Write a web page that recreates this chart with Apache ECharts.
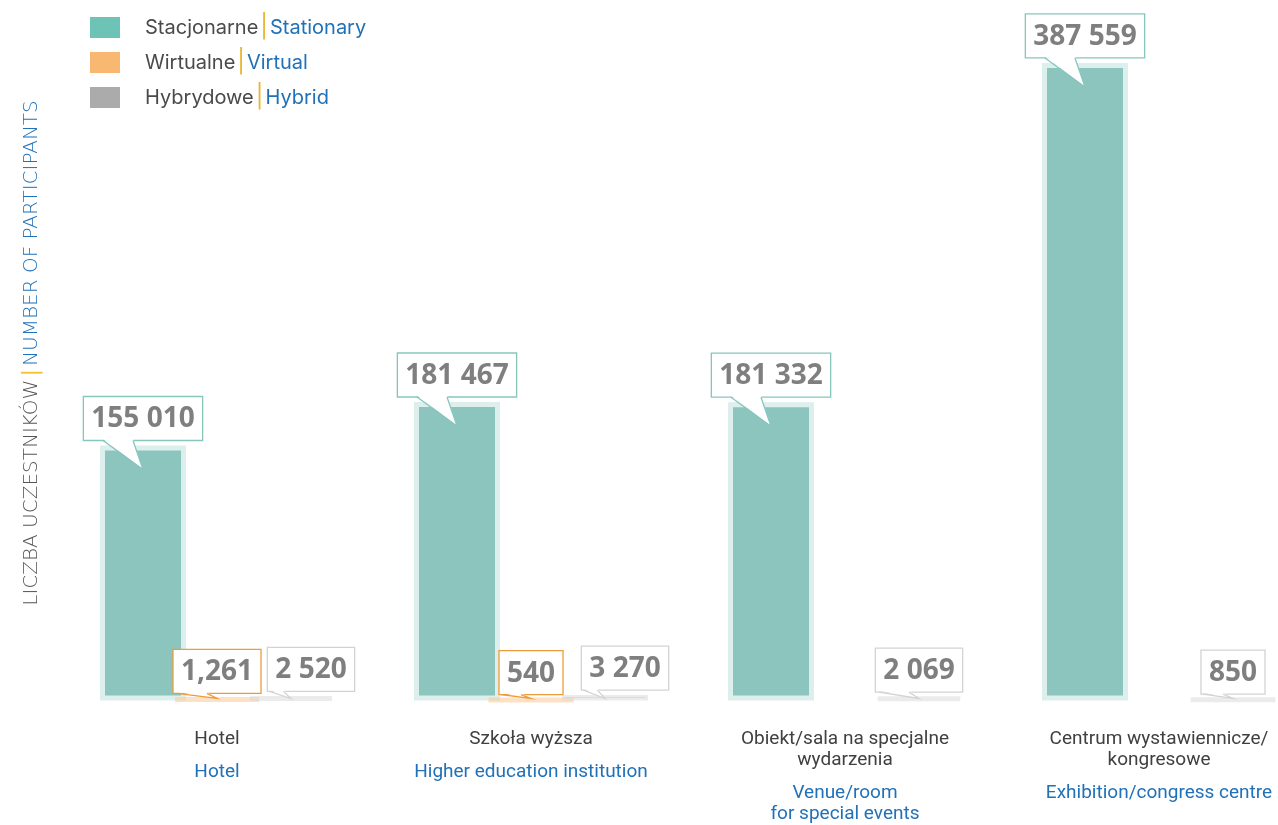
<!DOCTYPE html>
<html>
<head>
<meta charset="utf-8">
<script src="https://cdn.jsdelivr.net/npm/echarts@6/dist/echarts.min.js"></script>
<style>
html,body{margin:0;padding:0;background:#fff;}
#chart{width:1278px;height:825px;}
</style>
</head>
<body>
<div id="chart"></div>
<script>
// ---- DATA ----
const categoriesPl = ['Hotel', 'Szkoła wyższa', 'Obiekt/sala na specjalne\nwydarzenia', 'Centrum wystawiennicze/\nkongresowe'];
const categoriesEn = ['Hotel', 'Higher education institution', 'Venue/room\nfor special events', 'Exhibition/congress centre'];
const seriesNamesPl = ['Stacjonarne', 'Wirtualne', 'Hybrydowe'];
const seriesNamesEn = ['Stationary', 'Virtual', 'Hybrid'];
const stationary = [155010, 181467, 181332, 387559];
const virtualVals = [1261, 540, null, null];
const hybrid = [2520, 3270, 2069, 850];
const stationaryLabels = ['155 010', '181 467', '181 332', '387 559'];
const virtualLabels = ['1,261', '540', '', ''];
const hybridLabels = ['2 520', '3 270', '2 069', '850'];
const yTitlePl = 'LICZBA UCZESTNIKÓW';
const yTitleEn = 'NUMBER OF PARTICIPANTS';

// ---- STYLE ----
const BAR_W = 86;
const STEP = 74; // distance between bar centres inside a group
const calloutFont = 'bold 28px "Open Sans"';
const mctx = document.createElement('canvas').getContext('2d');
mctx.font = calloutFont;

const chart = echarts.init(document.getElementById('chart'));

function callout(values, labels, offset, color, shiftFn) {
  return {
    type: 'custom',
    name: 'callout-' + offset,
    z: 10,
    clip: false,
    silent: true,
    data: values.map((v, i) => [i, v, i]).filter(d => d[1] != null),
    encode: { x: 0, y: 1 },
    renderItem: function (params, api) {
      const i = api.value(2);
      const v = api.value(1);
      const p = api.coord([i, v]);
      const b = api.coord([i, 0]);
      const txt = labels[i];
      const tw = mctx.measureText(txt).width;
      const w = tw + 16, h = 44;
      const barX = p[0] + offset;
      const cx = barX + shiftFn(i);
      const boxBottom = p[1] - 5;
      const top = boxBottom - h;
      const left = cx - w / 2;
      const tipX = barX;
      const tipY = Math.min(boxBottom + 29, b[1] - 2);
      let xl = Math.max(tipX - 40, left + 2);
      let xr = Math.max(tipX - 10, xl + 14);
      return {
        type: 'group',
        children: [
          { type: 'rect', z2: 0, shape: { x: left, y: top, width: w, height: h },
            style: { fill: '#fff', stroke: color, lineWidth: 1.3 } },
          { type: 'polygon', z2: 1, shape: { points: [[xl, boxBottom - 1.5], [xr, boxBottom - 1.5], [tipX, tipY]] },
            style: { fill: '#fff' } },
          { type: 'polyline', z2: 2, shape: { points: [[xl, boxBottom], [tipX, tipY], [xr, boxBottom]] },
            style: { stroke: color, lineWidth: 1.3, fill: null } },
          { type: 'text', z2: 3, style: { text: txt, x: cx, y: top + h / 2 + 1, align: 'center', verticalAlign: 'middle',
            font: calloutFont, fill: '#7F7F7F' } }
        ]
      };
    }
  };
}

const option = {
  backgroundColor: '#fff',
  animation: false,
  grid: { left: 60, right: -38, top: 42.5, bottom: 124.5, outerBoundsMode: 'none', containLabel: false },
  legend: {
    orient: 'vertical',
    left: 85, top: 11,
    itemWidth: 30, itemHeight: 21, itemGap: 12,
    icon: 'rect',
    data: [
      { name: seriesNamesPl[0], itemStyle: { color: '#6DC3B6', borderWidth: 0 } },
      { name: seriesNamesPl[1], itemStyle: { color: '#F9B872', borderWidth: 0 } },
      { name: seriesNamesPl[2], itemStyle: { color: '#ABABAB', borderWidth: 0 } }
    ],
    formatter: function (name) {
      const k = seriesNamesPl.indexOf(name);
      return '{pl|' + name + '}{sep||}{en|' + seriesNamesEn[k] + '}';
    },
    textStyle: {
      padding: [0, 0, 0, 20],
      rich: {
        pl: { fontFamily: 'Inter', fontSize: 20, color: '#4A4A4A' },
        sep: { fontFamily: 'Inter', fontSize: 23, color: '#E9B52F', padding: [0, 2, 0, 2] },
        en: { fontFamily: 'Inter', fontSize: 20, color: '#2171B8' }
      }
    }
  },
  xAxis: {
    type: 'category',
    data: categoriesPl.map((c, i) => i),
    axisLine: { show: false },
    axisTick: { show: false },
    axisLabel: {
      interval: 0,
      margin: 28,
      hideOverlap: false,
      formatter: function (val, idx) {
        return '{pl|' + categoriesPl[idx] + '}\n{sp|}\n{en|' + categoriesEn[idx] + '}';
      },
      rich: {
        pl: { fontFamily: 'Roboto', fontSize: 19, color: '#404040', lineHeight: 21, align: 'center' },
        sp: { fontSize: 10, lineHeight: 12 },
        en: { fontFamily: 'Roboto', fontSize: 19, color: '#2171B8', lineHeight: 21, align: 'center' }
      }
    }
  },
  yAxis: {
    type: 'value', min: 0, max: 400000,
    axisLine: { show: false }, axisTick: { show: false },
    axisLabel: { show: false }, splitLine: { show: false }
  },
  graphic: [{
    type: 'text',
    x: 32, y: 353,
    rotation: Math.PI / 2,
    style: {
      text: '{pl|' + yTitlePl + '} {sep||} {en|' + yTitleEn + '}',
      align: 'center', verticalAlign: 'middle',
      rich: {
        pl: { fontFamily: 'DejaVu Sans', fontWeight: 300, fontSize: 20, fill: '#555555' },
        sep: { fontFamily: 'DejaVu Sans', fontSize: 21, fill: '#F2C12E' },
        en: { fontFamily: 'DejaVu Sans', fontWeight: 300, fontSize: 20, fill: '#2171B8' }
      }
    }
  }],
  series: [
    {
      name: seriesNamesPl[0], type: 'bar', data: stationary,
      barWidth: BAR_W, barGap: ((STEP - BAR_W) / BAR_W * 100) + '%',
      itemStyle: { color: '#8CC5BE', borderColor: '#DDEFEC', borderWidth: 5 }
    },
    {
      name: seriesNamesPl[1], type: 'bar', data: virtualVals,
      barWidth: BAR_W,
      itemStyle: { color: '#EC8F2C', borderColor: 'rgba(250,200,150,0.55)', borderWidth: 5 }
    },
    {
      name: seriesNamesPl[2], type: 'bar', data: hybrid,
      barWidth: BAR_W,
      itemStyle: { color: '#BDBDBD', borderColor: 'rgba(215,215,215,0.5)', borderWidth: 5 }
    },
    callout(stationary, stationaryLabels, -STEP, '#86C6BD', () => 0),
    callout(virtualVals, virtualLabels, 0, '#EE9B3B', () => 0),
    callout(hybrid, hybridLabels, STEP, '#D3D3D3', i => (virtualVals[i] != null ? 20 : 0))
  ]
};
chart.setOption(option);
</script>
</body>
</html>
